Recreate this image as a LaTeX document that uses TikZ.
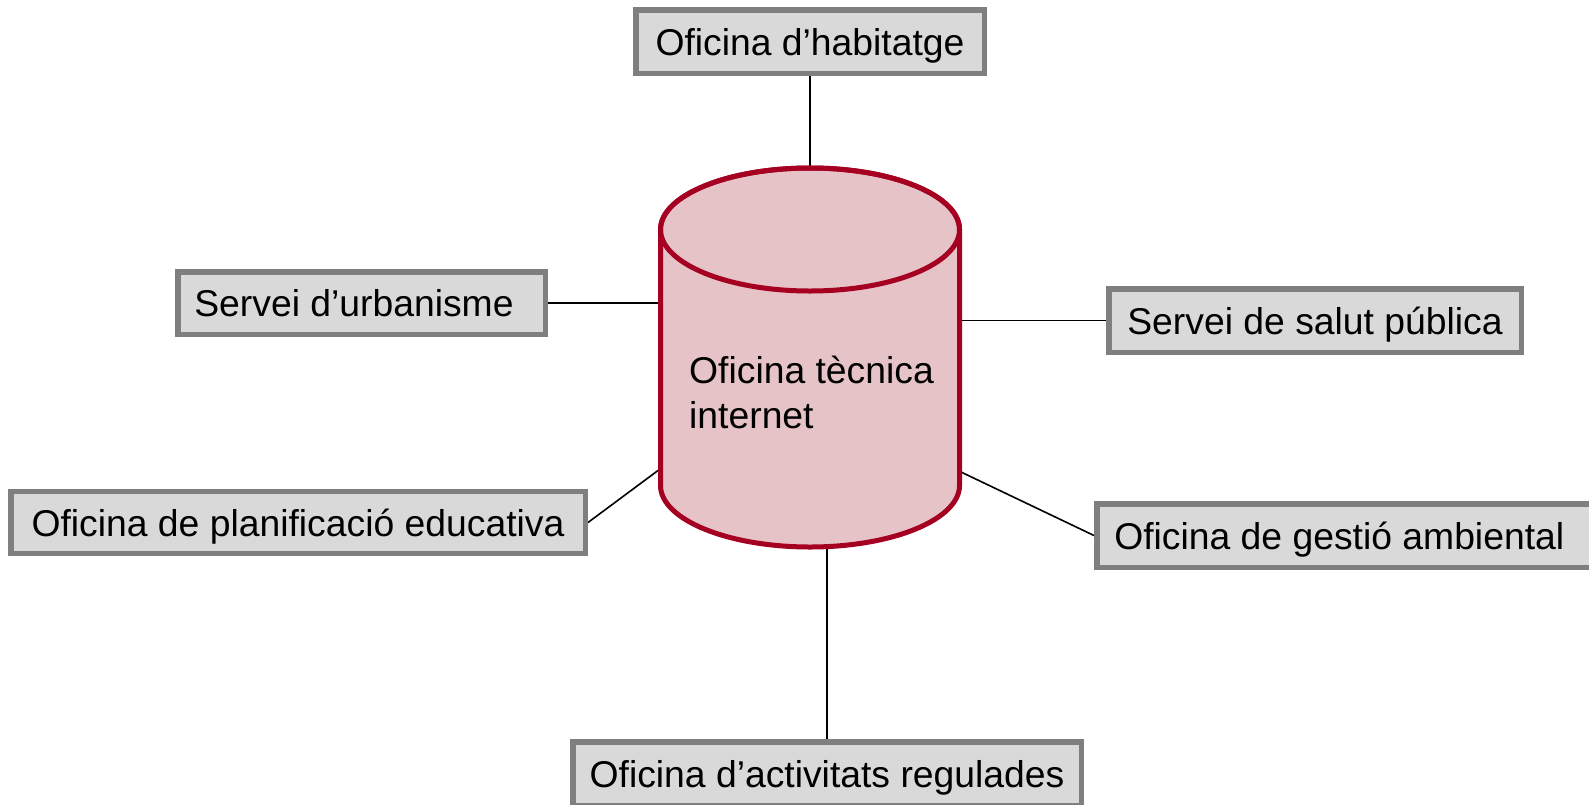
\documentclass[tikz,border=0pt]{standalone}
\usepackage{fontspec}
\setmainfont{Liberation Sans}
\definecolor{boxfill}{HTML}{D9D9D9}
\definecolor{boxline}{HTML}{7F7F7F}
\definecolor{cylline}{HTML}{A50021}
\definecolor{cylfill}{HTML}{E5C3C6}
\pgfdeclarelayer{bg}
\pgfsetlayers{bg,main}
\begin{document}
\begin{tikzpicture}[x=1pt,y=-1pt,
  obox/.style={draw=boxline, fill=boxfill, line width=5.5pt, inner sep=0pt,
    minimum height=63.5pt, font=\fontsize{37.3}{46}\selectfont,
    text height=27pt, text depth=0pt},
  link/.style={draw=black, line width=1.6pt},
  cyl/.style={draw=cylline, fill=cylfill, line width=5pt}]
\useasboundingbox (0,0) rectangle (1589,804);
\clip (0,0) rectangle (1589,804);

% cylinder
\path[cyl] (660.5,229.5) -- (660.5,485.5)
  arc[start angle=180, end angle=360, x radius=149.5pt, y radius=61.5pt]
  -- (959.5,229.5)
  arc[start angle=0, end angle=180, x radius=149.5pt, y radius=61.5pt] -- cycle;
\draw[cylline, line width=5pt] (810,229.5) ellipse [x radius=149.5pt, y radius=61.5pt];
\node[inner sep=0pt, anchor=west, align=left, font=\fontsize{37.3}{45}\selectfont] (cyltext) at (689,392) {Oficina tècnica\\internet};

\coordinate (cT) at (810,168);
\coordinate (cL1) at (660,303);
\coordinate (cR1) at (960,320.5);
\coordinate (cL2) at (660,469);
\coordinate (cR2) at (961,472);
\coordinate (cB) at (827,548);

% boxes
\node[obox, minimum width=348.5pt] (hab) at (810,41.5) {Oficina d’habitatge};
\node[obox, minimum width=367.5pt, minimum height=62.5pt] (urb) at (361.5,303) {Servei d’urbanisme\hspace*{15pt}};
\node[obox, minimum width=412.5pt] (sal) at (1315,320.5) {Servei de salut pública};
\node[obox, minimum width=574.5pt, minimum height=62pt] (plan) at (298,522.5) {Oficina de planificació educativa};
\node[obox, minimum width=510pt] (gest) at (1351.75,535.5) {Oficina de gestió ambiental\hspace*{25pt}};
\node[obox, minimum width=508.5pt] (act) at (827,773.5) {Oficina d’activitats regulades};

% connectors
\begin{pgfonlayer}{bg}
\draw[link] (hab.south) -- (cT);
\draw[link] (urb.east) -- (cL1);
\draw[link] (sal.west) -- (cR1);
\draw[link] (plan.east) -- (cL2);
\draw[link] (gest.west) -- (cR2);
\draw[link] (act.north) -- (cB);
\end{pgfonlayer}
\end{tikzpicture}
\end{document}
